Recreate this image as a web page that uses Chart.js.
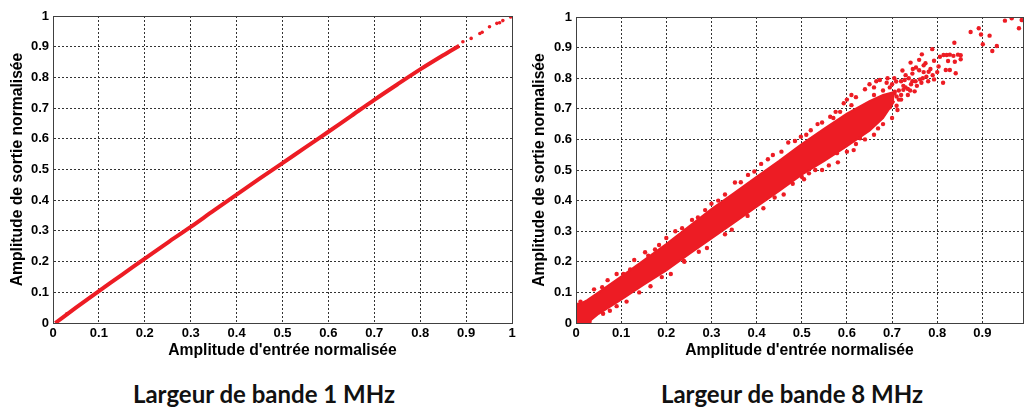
<!DOCTYPE html>
<html>
<head>
<meta charset="utf-8">
<script src="https://cdn.jsdelivr.net/npm/chart.js@4.4.1/dist/chart.umd.min.js"></script>
<style>
  body { margin: 0; background: #fff; width: 1027px; height: 408px; position: relative; overflow: hidden; }
  canvas { position: absolute; top: 0; }
  #chart1 { left: 0; }
  #chart2 { left: 520px; }
  .caption { position: absolute; top: 379px; width: 400px; text-align: center;
             font-family: Lato, 'Open Sans', sans-serif; font-weight: bold; font-size: 24px; color: #111; }
</style>
</head>
<body>
<canvas id="chart1" width="520" height="362"></canvas>
<canvas id="chart2" width="507" height="362"></canvas>
<div class="caption" style="left:64px">Largeur de bande 1 MHz</div>
<div class="caption" style="left:592px">Largeur de bande 8 MHz</div>
<script>
// axes
var xTitle = "Amplitude d'entrée normalisée";
var yTitle = 'Amplitude de sortie normalisée';

// 1 MHz : courbe quasi linéaire
var lineX1 = [0.005, 0.05, 0.1, 0.15, 0.2, 0.25, 0.3, 0.35, 0.4, 0.45, 0.5, 0.55, 0.6, 0.65, 0.7, 0.75, 0.8, 0.85, 0.885];
var lineY1 = [0.0, 0.05, 0.104, 0.157, 0.21, 0.262, 0.313, 0.366, 0.418, 0.47, 0.521, 0.572, 0.623, 0.675, 0.727, 0.777, 0.826, 0.872, 0.903];
var tailX1 = [0.03, 0.893, 0.911, 0.93, 0.935, 0.951, 0.967, 0.973, 0.98, 0.997];
var tailY1 = [0.03, 0.916, 0.927, 0.943, 0.947, 0.965, 0.976, 0.978, 0.985, 0.997];

// 8 MHz : nuage dense (bords haut / bas) + points isolés
var bandX2 = [0, 0.025, 0.05, 0.1, 0.15, 0.2, 0.25, 0.3, 0.35, 0.4, 0.45, 0.5, 0.55, 0.6, 0.65, 0.68, 0.705];
var bandHigh2 = [0.055, 0.075, 0.1, 0.152, 0.205, 0.258, 0.315, 0.372, 0.425, 0.478, 0.53, 0.585, 0.635, 0.684, 0.725, 0.745, 0.755];
var bandLow2 = [0.0, 0.0, 0.03, 0.076, 0.125, 0.172, 0.225, 0.276, 0.328, 0.38, 0.432, 0.485, 0.53, 0.578, 0.628, 0.67, 0.725];
var dotsX2 = [0.950, 0.965, 0.981, 0.987, 0.874, 0.892, 0.897, 0.901, 0.916, 0.922, 0.932, 0.838, 0.789, 0.766, 0.806,
  0.814, 0.821, 0.828, 0.836, 0.846, 0.852, 0.852, 0.839, 0.824, 0.803, 0.819, 0.828, 0.841, 0.813, 0.793,
  0.793, 0.741, 0.746, 0.753, 0.76, 0.774, 0.781, 0.776, 0.768, 0.762, 0.723, 0.728, 0.737, 0.742, 0.75,
  0.752, 0.709, 0.688, 0.673, 0.706, 0.72, 0.715, 0.725, 0.64, 0.62, 0.66, 0.695, 0.71, 0.712, 0.669,
  0.629, 0.578, 0.5, 0.516, 0.272, 0.239, 0.112, 0.153, 0.129, 0.058, 0.593, 0.563, 0.498, 0.436, 0.381,
  0.352, 0.286, 0.257, 0.184, 0.76, 0.77, 0.745, 0.73, 0.7, 0.68, 0.66, 0.655, 0.63, 0.61, 0.575,
  0.545, 0.52, 0.47, 0.41, 0.33, 0.3, 0.22, 0.2, 0.16, 0.09, 0.07, 0.04, 0.01, 0.02, 0.005,
  0.03, 0.06, 0.09, 0.14, 0.19, 0.24, 0.33, 0.38, 0.44, 0.48, 0.53, 0.56, 0.6, 0.62, 0.64, 0.66, 0.68, 0.7,
  0.685, 0.69, 0.7, 0.705, 0.71, 0.72, 0.7, 0.73, 0.74, 0.735, 0.755, 0.765, 0.78, 0.79, 0.8,
  0.785, 0.77, 0.72, 0.705, 0.69, 0.665, 0.65, 0.6, 0.61, 0.675, 0.695, 0.715, 0.735, 0.745, 0.725,
  0.585, 0.57, 0.535, 0.51, 0.485, 0.455, 0.425, 0.395, 0.365, 0.315, 0.27, 0.235, 0.175, 0.105, 0.12,
  0.615, 0.58, 0.545, 0.505, 0.46, 0.415, 0.345, 0.29, 0.21, 0.165, 0.075];
var dotsY2 = [0.988, 0.996, 0.963, 0.99, 0.951, 0.963, 0.943, 0.911, 0.939, 0.889, 0.905, 0.916, 0.895, 0.878, 0.870,
  0.876, 0.876, 0.877, 0.873, 0.877, 0.875, 0.862, 0.854, 0.856, 0.838, 0.827, 0.827, 0.816, 0.785, 0.857,
  0.796, 0.851, 0.83, 0.835, 0.826, 0.849, 0.821, 0.805, 0.8, 0.796, 0.825, 0.794, 0.8, 0.78, 0.757,
  0.79, 0.789, 0.785, 0.794, 0.756, 0.745, 0.73, 0.762, 0.764, 0.738, 0.77, 0.77, 0.71, 0.696, 0.636,
  0.604, 0.555, 0.478, 0.489, 0.233, 0.203, 0.07, 0.231, 0.206, 0.117, 0.718, 0.674, 0.609, 0.549, 0.484,
  0.459, 0.369, 0.337, 0.255, 0.86, 0.842, 0.815, 0.81, 0.78, 0.76, 0.745, 0.72, 0.70, 0.712, 0.69,
  0.655, 0.63, 0.59, 0.52, 0.42, 0.39, 0.3, 0.278, 0.22, 0.16, 0.14, 0.11, 0.07, 0.065, 0.06,
  0.005, 0.03, 0.055, 0.1, 0.15, 0.2, 0.29, 0.35, 0.41, 0.455, 0.5, 0.515, 0.56, 0.585, 0.6, 0.615, 0.65, 0.67,
  0.72, 0.735, 0.745, 0.75, 0.74, 0.73, 0.725, 0.77, 0.76, 0.745, 0.775, 0.785, 0.79, 0.81, 0.82,
  0.83, 0.82, 0.79, 0.8, 0.8, 0.79, 0.78, 0.73, 0.745, 0.7, 0.705, 0.76, 0.765, 0.79, 0.775,
  0.69, 0.67, 0.65, 0.615, 0.595, 0.56, 0.535, 0.495, 0.46, 0.4, 0.345, 0.31, 0.24, 0.16, 0.175,
  0.565, 0.525, 0.5, 0.47, 0.42, 0.375, 0.305, 0.245, 0.16, 0.12, 0.04];

var rouge = '#ed1c24';

function points(xs, ys) {
    return xs.map(function (x, i) { return { x: x, y: ys[i] }; });
}

var boxPlugin = {
    id: 'box',
    afterDatasetsDraw: function (chart) {
        var a = chart.chartArea, ctx = chart.ctx;
        ctx.save();
        ctx.strokeStyle = '#404040';
        ctx.lineWidth = 1;
        ctx.strokeRect(Math.round(a.left) + 0.5, Math.round(a.top) + 0.5,
                       Math.round(a.right - a.left), Math.round(a.bottom - a.top));
        ctx.restore();
    }
};

function creerGraphique(id, datasets, xMax, yWidth, titleGap, pad) {
    var ctx = document.getElementById(id).getContext('2d');
    var tickFont = { family: 'Liberation Sans', weight: 'bold', size: 13 };
    var titleFont = { family: 'Liberation Sans', weight: 'bold', size: 15.7 };
    return new Chart(ctx, {
        type: 'scatter',
        data: { datasets: datasets },
        options: {
            responsive: false,
            animation: false,
            layout: { padding: pad },
            plugins: { legend: { display: false }, tooltip: { enabled: false } },
            scales: {
                x: {
                    type: 'linear', min: 0, max: xMax,
                    ticks: { stepSize: 0.1, includeBounds: false, color: '#000', font: tickFont, padding: 3,
                             callback: function (v) { return +v.toFixed(1); } },
                    grid: { color: '#333', drawTicks: false },
                    border: { color: '#404040', dash: [2, 2] },
                    title: { display: true, text: xTitle, color: '#000', font: titleFont, padding: { top: 0, bottom: 2 } },
                    afterFit: function (s) { s.height = 39; }
                },
                y: {
                    type: 'linear', min: 0, max: 1,
                    ticks: { stepSize: 0.1, color: '#000', font: tickFont, padding: 4,
                             callback: function (v) { return +v.toFixed(1); } },
                    grid: { color: '#333', drawTicks: false },
                    border: { color: '#404040', dash: [2, 2] },
                    title: { display: true, text: yTitle, color: '#000', font: titleFont, padding: { top: titleGap, bottom: 0 } },
                    afterFit: function (s) { s.width = yWidth; }
                }
            }
        },
        plugins: [boxPlugin]
    });
}

creerGraphique('chart1', [
    { data: points(lineX1, lineY1), showLine: true, borderColor: rouge, borderWidth: 4,
      pointRadius: 0, tension: 0.3 },
    { data: points(tailX1, tailY1), backgroundColor: rouge, borderColor: rouge, pointRadius: 1.8, borderWidth: 0 }
], 1, 53, 8, { top: 16, right: 8, left: 0, bottom: 0 });

creerGraphique('chart2', [
    { data: points(bandX2, bandLow2), showLine: true, borderColor: rouge, borderWidth: 2,
      pointRadius: 0, fill: false },
    { data: points(bandX2, bandHigh2), showLine: true, borderColor: rouge, borderWidth: 2,
      pointRadius: 0, fill: '-1', backgroundColor: rouge },
    { data: points(dotsX2, dotsY2), backgroundColor: rouge, borderColor: rouge, pointRadius: 2.2, borderWidth: 0 }
], 0.99, 56, 10, { top: 17, right: 0, left: 0, bottom: 0 });
</script>
</body>
</html>
